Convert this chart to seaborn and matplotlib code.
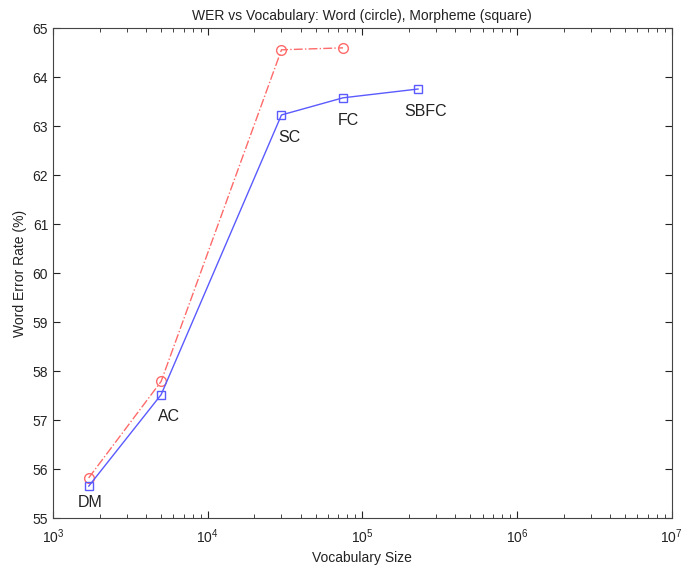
import matplotlib
matplotlib.use("Agg")
import matplotlib.pyplot as plt
import seaborn as sns
import numpy as np
from matplotlib.ticker import LogLocator, NullFormatter

# Data
morph_labels = ["DM", "AC", "SC", "FC", "SBFC"]
morph_vocab = [1700, 5000, 30000, 75000, 230000]
morph_wer = [55.65, 57.52, 63.23, 63.58, 63.76]

word_vocab = [1700, 5000, 30000, 75000]
word_wer = [55.82, 57.79, 64.56, 64.60]

sns.set_style("ticks")
plt.rcParams['font.family'] = ['Liberation Sans', 'DejaVu Sans']

fig = plt.figure(figsize=(6.84, 5.65), dpi=100)
ax = fig.add_axes([0.0775, 0.083, 0.9045, 0.867])

sns.lineplot(x=word_vocab, y=word_wer, ax=ax, sort=False, color="#ff6a6a",
             linestyle="-.", linewidth=1.0, marker="o", markersize=7,
             markerfacecolor="none", markeredgecolor="#ff6a6a", markeredgewidth=1.0)
sns.lineplot(x=morph_vocab, y=morph_wer, ax=ax, sort=False, color="#5a5aff",
             linestyle="-", linewidth=1.0, marker="s", markersize=6,
             markerfacecolor="none", markeredgecolor="#5a5aff", markeredgewidth=1.0)

offsets = {"DM": (-8, -12), "AC": (-2, -16), "SC": (-2, -16), "FC": (-4, -16), "SBFC": (-10, -16)}
for lab, xv, yv in zip(morph_labels, morph_vocab, morph_wer):
    ax.annotate(lab, (xv, yv), xytext=offsets[lab], textcoords="offset points",
                fontsize=11.5, color="#222222", ha="left", va="center")

ax.set_xscale("log")
ax.set_xlim(1e3, 1e7)
ax.set_ylim(55, 65)
ax.set_yticks(np.arange(55, 66, 1))
ax.xaxis.set_major_locator(LogLocator(base=10, numticks=10))
ax.xaxis.set_minor_locator(LogLocator(base=10, subs=np.arange(2, 10), numticks=20))
ax.xaxis.set_minor_formatter(NullFormatter())
ax.tick_params(which="both", direction="in", top=True, right=True, labelsize=10, colors="#222222")
ax.tick_params(which="major", length=5, width=0.8)
ax.tick_params(which="minor", length=3, width=0.6)
ax.tick_params(axis="x", which="major", pad=7)
for s in ax.spines.values():
    s.set_visible(True)
    s.set_color("#444444")
    s.set_linewidth(0.8)

ax.set_xlabel("Vocabulary Size", fontsize=10, color="#222222", labelpad=3)
ax.set_ylabel("Word Error Rate (%)", fontsize=10, color="#222222")
ax.set_title("WER vs Vocabulary: Word (circle), Morpheme (square)", fontsize=10, color="#222222", pad=6)

fig.savefig("out.png", dpi=100)
